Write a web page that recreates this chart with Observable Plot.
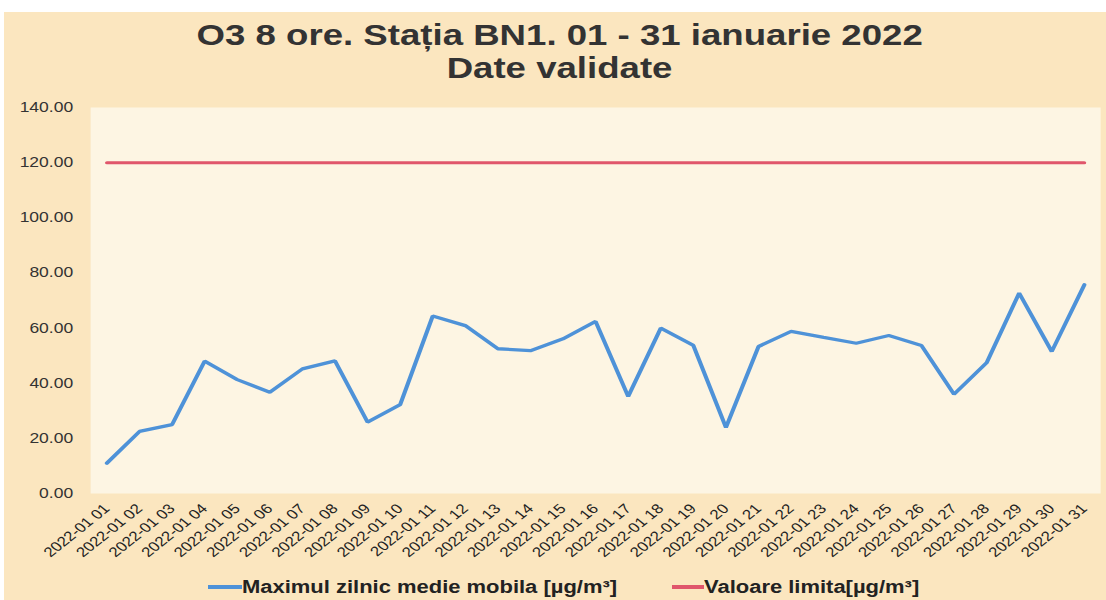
<!DOCTYPE html>
<html>
<head>
<meta charset="utf-8">
<script src="https://cdn.jsdelivr.net/npm/d3@7"></script>
<script src="https://cdn.jsdelivr.net/npm/@observablehq/plot@0.6"></script>
<style>
  html, body { margin: 0; padding: 0; background: #ffffff; }
  #wrap { position: absolute; left: 4px; top: 12px; width: 1102px; height: 588px; background: #fbe6bf; font-family: "Liberation Sans", Arial, sans-serif; overflow: hidden; }
  #title { position: absolute; left: 5px; top: 6px; width: 1102px; text-align: center; font-weight: bold; font-size: 30px; line-height: 33px; color: #333; }
  #title span { display: inline-block; transform: scaleX(1.22); transform-origin: 50% 50%; }
  /* the reference picture is a horizontally stretched chart: draw it narrower, then stretch */
  #chart { position: absolute; left: -4px; top: 83px; transform: scaleX(1.25); transform-origin: 0 0; }
  #legend { position: absolute; top: 565px; left: 0; width: 1102px; height: 22px; font-weight: bold; font-size: 18px; line-height: 20px; color: #222; }
  .item { position: absolute; top: 0; display: flex; align-items: center; }
  .sw { display: inline-block; height: 3.5px; }
  .lt { display: inline-block; transform: scaleX(1.22); transform-origin: 0 50%; white-space: nowrap; }
</style>
</head>
<body>
<div id="wrap">
  <div id="title"><span>O3 8 ore. Stația BN1. 01 - 31 ianuarie 2022</span><br><span>Date validate</span></div>
  <div id="chart"></div>
  <div id="legend">
    <div class="item" style="left:204px"><span class="sw" style="background:#4e92d8;width:34px"></span><span class="lt">Maximul zilnic medie mobila [µg/m³]</span></div>
    <div class="item" style="left:668px"><span class="sw" style="background:#e0566b;width:32px"></span><span class="lt">Valoare limita[µg/m³]</span></div>
  </div>
</div>
<script>
const dates = ["2022-01 01","2022-01 02","2022-01 03","2022-01 04","2022-01 05","2022-01 06","2022-01 07","2022-01 08","2022-01 09","2022-01 10","2022-01 11","2022-01 12","2022-01 13","2022-01 14","2022-01 15","2022-01 16","2022-01 17","2022-01 18","2022-01 19","2022-01 20","2022-01 21","2022-01 22","2022-01 23","2022-01 24","2022-01 25","2022-01 26","2022-01 27","2022-01 28","2022-01 29","2022-01 30","2022-01 31"];
const maxValues = [11.0, 22.5, 25.0, 48.0, 41.3, 36.7, 45.2, 48.1, 25.9, 32.2, 64.4, 60.9, 52.5, 51.8, 56.1, 62.4, 35.2, 60.0, 53.7, 23.9, 53.3, 58.8, 56.6, 54.5, 57.3, 53.7, 36.0, 47.4, 72.7, 51.5, 75.7];
const limitValues = [120,120,120,120,120,120,120,120,120,120,120,120,120,120,120,120,120,120,120,120,120,120,120,120,120,120,120,120,120,120,120];
const yTicks = [0, 20, 40, 60, 80, 100, 120, 140];

const seriesMax = dates.map((d, i) => ({date: d, value: maxValues[i]}));
const seriesLimit = dates.map((d, i) => ({date: d, value: limitValues[i]}));

const chart = Plot.plot({
  width: 885,
  height: 480,
  marginLeft: 72,
  marginRight: 5,
  marginTop: 12,
  marginBottom: 82,
  style: {fontFamily: "Liberation Sans, Arial, sans-serif", background: "transparent", color: "#333"},
  x: {type: "point", domain: dates, padding: 0.5, round: false, label: null},
  y: {domain: [0, 140], label: null},
  marks: [
    Plot.frame({fill: "#fdf5e3", stroke: null}),
    Plot.axisY({ticks: yTicks, tickFormat: d3.format(".2f"), tickSize: 0, tickPadding: 14, fontSize: 14, fill: "#333"}),
    Plot.axisX({tickSize: 0, tickRotate: -45, tickPadding: 13, fontSize: 13.5, fill: "#222"}),
    Plot.line(seriesLimit, {x: "date", y: "value", stroke: "#e0566b", strokeWidth: 3}),
    Plot.line(seriesMax, {x: "date", y: "value", stroke: "#4e92d8", strokeWidth: 3.3, strokeLinejoin: "miter"})
  ]
});
document.getElementById("chart").appendChild(chart);
</script>
</body>
</html>
